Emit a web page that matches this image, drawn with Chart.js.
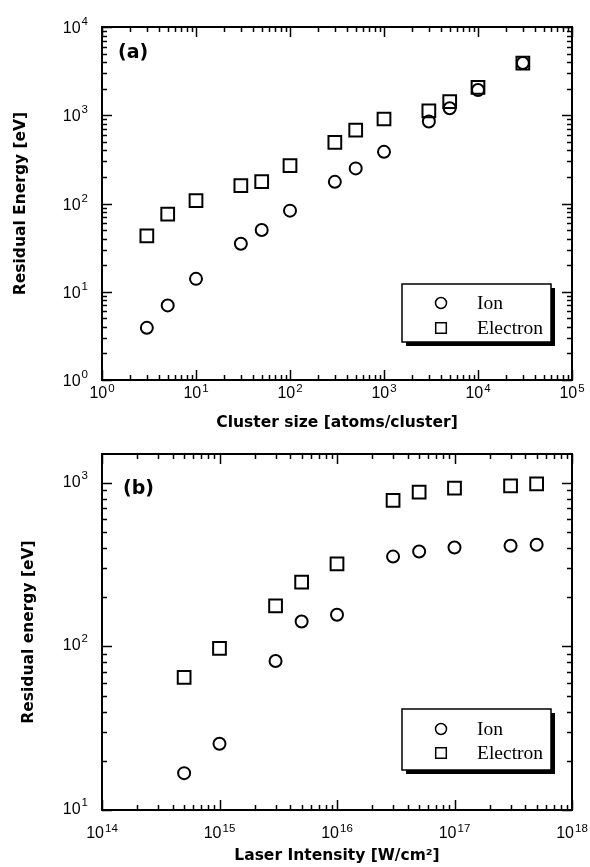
<!DOCTYPE html>
<html>
<head>
<meta charset="utf-8">
<script src="https://cdn.jsdelivr.net/npm/chart.js@4.4.0/dist/chart.umd.min.js"></script>
<style>
  body { margin: 0; background: #fff; }
  #wrap { position: relative; width: 590px; height: 867px; }
  canvas { position: absolute; left: 0; }
</style>
</head>
<body>
<div id="wrap">
  <canvas id="sizeChart" width="590" height="434" style="top:0"></canvas>
  <canvas id="laserChart" width="590" height="433" style="top:434px"></canvas>
</div>
<script>
// (a) residual energy against cluster size
const clusterSizes = [3, 5, 10, 30, 50, 100, 300, 500, 1000, 3000, 5000, 10000, 30000];
const ionBySize = [3.9, 7, 14, 35, 50, 83, 176, 250, 385, 850, 1200, 1930, 3900];
const electronBySize = [43, 76, 108, 159, 177, 268, 493, 680, 907, 1120, 1425, 2070, 3900];

// (b) residual energy against laser intensity
const intensities = [5e14, 1e15, 3e15, 5e15, 1e16, 3e16, 5e16, 1e17, 3e17, 5e17];
const ionByIntensity = [16.8, 25.4, 81.5, 142, 156, 354, 380, 402, 412, 418];
const electronByIntensity = [64.7, 97.3, 177, 247, 320, 780, 876, 927, 959, 986];

const seriesNames = ['Ion', 'Electron'];
const sizeExponents = [0, 1, 2, 3, 4, 5];
const energyExponentsA = [0, 1, 2, 3, 4];
const intensityExponents = [14, 15, 16, 17, 18];
const energyExponentsB = [1, 2, 3];

const TITLE_FONT = { family: '"DejaVu Sans"', size: 15.5, weight: 'bold' };

function pairs(xs, ys) {
  return xs.map((x, i) => ({ x: x, y: ys[i] }));
}

function datasets(xs, ion, electron) {
  return [{
    label: seriesNames[0],
    data: pairs(xs, ion),
    pointStyle: 'circle',
    pointRadius: 6,
    borderWidth: 2,
    borderColor: '#000',
    backgroundColor: 'rgba(0,0,0,0)'
  }, {
    label: seriesNames[1],
    data: pairs(xs, electron),
    pointStyle: 'rect',
    pointRadius: 9,
    borderWidth: 2,
    borderColor: '#000',
    backgroundColor: 'rgba(0,0,0,0)'
  }];
}

// 1..9 x 10^k values inside [min, max]
function logValues(min, max) {
  const out = [];
  for (let e = Math.floor(Math.log10(min)); e <= Math.ceil(Math.log10(max)); e++) {
    for (let m = 1; m <= 9; m++) {
      const v = m * Math.pow(10, e);
      if (v >= min * 0.999 && v <= max * 1.001) out.push({ v: v, major: m === 1 });
    }
  }
  return out;
}

function seg(ctx, x1, y1, x2, y2) {
  ctx.beginPath();
  ctx.moveTo(x1, y1);
  ctx.lineTo(x2, y2);
  ctx.stroke();
}

// "10" with a raised exponent; anchor is 'center' or 'right'
function powerLabel(ctx, exp, x, y, anchor, supRaise) {
  const base = '10', sup = String(exp);
  ctx.font = '16px "Liberation Sans"';
  const wb = ctx.measureText(base).width;
  ctx.font = '11.5px "Liberation Sans"';
  const ws = ctx.measureText(sup).width;
  const total = wb + ws + 1;
  const start = anchor === 'center' ? x - total / 2 : x - total;
  ctx.textAlign = 'left';
  ctx.textBaseline = 'alphabetic';
  ctx.font = '16px "Liberation Sans"';
  ctx.fillText(base, start, y);
  ctx.font = '11.5px "Liberation Sans"';
  ctx.fillText(sup, start + wb + 1, y - supRaise);
}

const logFrame = {
  id: 'logFrame',
  beforeDatasetsDraw(chart, args, opts) {
    const ctx = chart.ctx;
    const { left, top, right, bottom } = chart.chartArea;
    const xs = chart.scales.x, ys = chart.scales.y;
    ctx.save();
    ctx.strokeStyle = '#000';
    ctx.fillStyle = '#000';
    ctx.lineWidth = 1.5;
    logValues(xs.min, xs.max).forEach(t => {
      const px = Math.round(xs.getPixelForValue(t.v)) + 0.5;
      const len = t.major ? 10 : 5;
      seg(ctx, px, bottom, px, bottom - len);
      seg(ctx, px, top, px, top + len);
    });
    logValues(ys.min, ys.max).forEach(t => {
      const py = Math.round(ys.getPixelForValue(t.v)) + 0.5;
      const len = t.major ? 10 : 5;
      seg(ctx, left, py, left + len, py);
      seg(ctx, right, py, right - len, py);
    });
    ctx.lineWidth = 2;
    ctx.strokeRect(left, top, right - left, bottom - top);

    opts.xExp.forEach(e => {
      powerLabel(ctx, e, xs.getPixelForValue(Math.pow(10, e)), bottom + opts.xLabelDrop, 'center', 6);
    });
    opts.yExp.forEach(e => {
      powerLabel(ctx, e, left - 14, ys.getPixelForValue(Math.pow(10, e)) + opts.yLabelDrop, 'right', 8);
    });

    ctx.font = 'bold 19px "DejaVu Sans"';
    ctx.textAlign = 'left';
    ctx.textBaseline = 'middle';
    ctx.fillText(opts.tag, opts.tagX, opts.tagY);
    ctx.restore();
  },
  afterDraw(chart, args, opts) {
    const ctx = chart.ctx;
    const b = opts.box;
    ctx.save();
    ctx.fillStyle = '#000';
    ctx.fillRect(b.x + 4, b.y + 4, b.w, b.h);
    ctx.fillStyle = '#fff';
    ctx.fillRect(b.x, b.y, b.w, b.h);
    ctx.strokeStyle = '#000';
    ctx.lineWidth = 1.5;
    ctx.strokeRect(b.x, b.y, b.w, b.h);
    chart.data.datasets.forEach((ds, i) => {
      const cy = b.y + b.rows[i];
      ctx.fillStyle = 'rgba(0,0,0,0)';
      ctx.strokeStyle = '#000';
      Chart.helpers.drawPoint(ctx, {
        pointStyle: ds.pointStyle,
        radius: ds.pointStyle === 'rect' ? 7.5 : 5.5,
        borderWidth: 1.8,
        rotation: 0
      }, b.x + 39, cy);
      ctx.fillStyle = '#000';
      ctx.font = '19.5px "Liberation Serif"';
      ctx.textAlign = 'left';
      ctx.textBaseline = 'alphabetic';
      ctx.fillText(ds.label, b.x + 75, cy + 6);
    });
    ctx.restore();
  }
};

function makeChart(id, height, plotTop, plotBottom, xs, ion, electron, xRange, yRange, xTitle, yTitle, frameOpts) {
  return new Chart(document.getElementById(id), {
    type: 'scatter',
    data: { datasets: datasets(xs, ion, electron) },
    options: {
      responsive: false,
      animation: false,
      events: [],
      layout: { padding: { top: plotTop, right: 18, left: 0, bottom: 0 } },
      plugins: {
        legend: { display: false },
        tooltip: { enabled: false },
        logFrame: frameOpts
      },
      scales: {
        x: {
          type: 'logarithmic',
          min: xRange[0],
          max: xRange[1],
          grid: { display: false },
          border: { display: false },
          ticks: { display: false },
          title: {
            display: true,
            text: xTitle,
            color: '#000',
            font: TITLE_FONT,
            padding: { top: 0, bottom: frameOpts.xTitlePad }
          },
          afterFit: s => { s.height = height - plotBottom; }
        },
        y: {
          type: 'logarithmic',
          min: yRange[0],
          max: yRange[1],
          grid: { display: false },
          border: { display: false },
          ticks: { display: false },
          title: {
            display: true,
            text: yTitle,
            color: '#000',
            font: TITLE_FONT,
            padding: { top: frameOpts.yTitlePad, bottom: 0 }
          },
          afterFit: s => { s.width = 102; }
        }
      }
    },
    plugins: [logFrame]
  });
}

makeChart('sizeChart', 434, 27, 380, clusterSizes, ionBySize, electronBySize,
  [1, 1e5], [1, 1e4], 'Cluster size [atoms/cluster]', 'Residual Energy [eV]', {
    xExp: sizeExponents, yExp: energyExponentsA,
    xLabelDrop: 18, yLabelDrop: 6,
    tag: '(a)', tagX: 118, tagY: 53,
    xTitlePad: 2, yTitlePad: 12,
    box: { x: 402, y: 284, w: 149, h: 58, rows: [19, 44] }
  });

makeChart('laserChart', 433, 20, 376, intensities, ionByIntensity, electronByIntensity,
  [1e14, 1e18], [10, 1500], 'Laser Intensity [W/cm\u00b2]', 'Residual energy [eV]', {
    xExp: intensityExponents, yExp: energyExponentsB,
    xLabelDrop: 28, yLabelDrop: 4,
    tag: '(b)', tagX: 123, tagY: 55,
    xTitlePad: 2, yTitlePad: 20,
    box: { x: 402, y: 275, w: 149, h: 61, rows: [20, 44] }
  });
</script>
</body>
</html>
